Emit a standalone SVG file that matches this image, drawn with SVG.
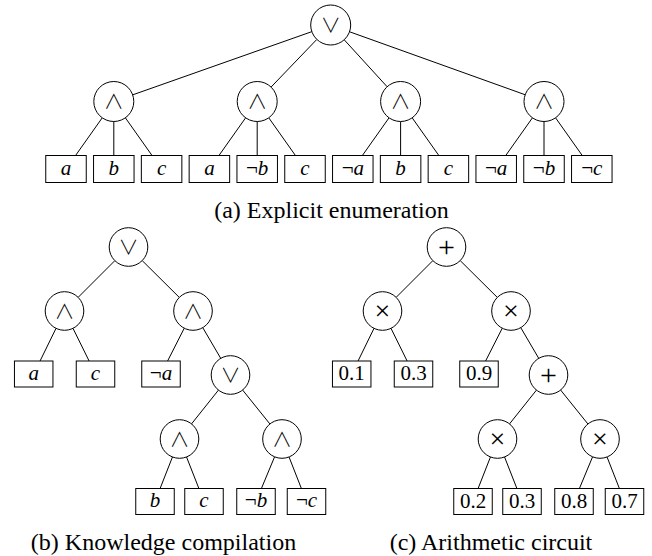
<svg xmlns="http://www.w3.org/2000/svg" width="652" height="556" viewBox="0 0 652 556">
  <style>
    .edge { stroke: #000; stroke-width: 1; fill: none; }
    .gate { fill: #fff; stroke: #000; stroke-width: 1; }
    .leaf { fill: #fff; stroke: #000; stroke-width: 1; }
    .op { font-family: "Noto Sans CJK JP", "DejaVu Sans", sans-serif; font-weight: 300; font-size: 20px; text-anchor: middle; fill: #000; }
    .sum { font-family: "Liberation Serif", serif; font-size: 30px; text-anchor: middle; fill: #000; }
    .prod { font-family: "Liberation Serif", serif; font-size: 28px; text-anchor: middle; fill: #000; }
    .lit { font-family: "Liberation Serif", serif; font-style: italic; font-size: 21px; text-anchor: middle; fill: #000; }
    .lit .neg { font-style: normal; }
    .num { font-family: "Liberation Serif", serif; font-size: 21px; text-anchor: middle; fill: #000; }
    .cap { font-family: "Liberation Serif", serif; font-size: 24px; text-anchor: middle; fill: #000; }
  </style>
  <rect width="652" height="556" fill="#fff"/>

  <!-- (a) explicit enumeration: one OR over four ANDs of literals -->
  <g id="enumeration">
    <g id="a-edges">
      <path class="edge" d="M311.84 31.65 L132.66 94.85 M316.84 39.42 L271.06 87.08 M344.19 39.77 L387.11 86.73 M349.53 31.75 L525.17 94.75"/>
      <path class="edge" d="M102.24 117.8 L75.56 155.5 M113.8 121.5 V155.5 M125.36 117.8 L152.04 155.5"/>
      <path class="edge" d="M245.64 117.8 L218.96 155.5 M257.2 121.5 V155.5 M268.76 117.8 L295.44 155.5"/>
      <path class="edge" d="M389.04 117.8 L362.36 155.5 M400.6 121.5 V155.5 M412.16 117.8 L438.84 155.5"/>
      <path class="edge" d="M532.44 117.8 L505.76 155.5 M544 121.5 V155.5 M555.56 117.8 L582.24 155.5"/>
    </g>
    <g id="a-or"><circle class="gate" cx="330.7" cy="25" r="20"/><text class="op" x="330.7" y="32.5">∨</text></g>
    <g id="a-and1"><circle class="gate" cx="113.8" cy="101.5" r="20"/><text class="op" x="113.8" y="109">∧</text></g>
    <g id="a-and2"><circle class="gate" cx="257.2" cy="101.5" r="20"/><text class="op" x="257.2" y="109">∧</text></g>
    <g id="a-and3"><circle class="gate" cx="400.6" cy="101.5" r="20"/><text class="op" x="400.6" y="109">∧</text></g>
    <g id="a-and4"><circle class="gate" cx="544" cy="101.5" r="20"/><text class="op" x="544" y="109">∧</text></g>

    <g id="a-leaf1"><rect class="leaf" x="45.75" y="155.5" width="40.5" height="27"/><text class="lit" x="66" y="174.5">a</text></g>
    <g id="a-leaf2"><rect class="leaf" x="93.55" y="155.5" width="40.5" height="27"/><text class="lit" x="113.8" y="174.5">b</text></g>
    <g id="a-leaf3"><rect class="leaf" x="141.35" y="155.5" width="40.5" height="27"/><text class="lit" x="161.6" y="174.5">c</text></g>
    <g id="a-leaf4"><rect class="leaf" x="189.15" y="155.5" width="40.5" height="27"/><text class="lit" x="209.4" y="174.5">a</text></g>
    <g id="a-leaf5"><rect class="leaf" x="236.95" y="155.5" width="40.5" height="27"/><text class="lit" x="257.2" y="174.5"><tspan class="neg">¬</tspan>b</text></g>
    <g id="a-leaf6"><rect class="leaf" x="284.75" y="155.5" width="40.5" height="27"/><text class="lit" x="305" y="174.5">c</text></g>
    <g id="a-leaf7"><rect class="leaf" x="332.55" y="155.5" width="40.5" height="27"/><text class="lit" x="352.8" y="174.5"><tspan class="neg">¬</tspan>a</text></g>
    <g id="a-leaf8"><rect class="leaf" x="380.35" y="155.5" width="40.5" height="27"/><text class="lit" x="400.6" y="174.5">b</text></g>
    <g id="a-leaf9"><rect class="leaf" x="428.15" y="155.5" width="40.5" height="27"/><text class="lit" x="448.4" y="174.5">c</text></g>
    <g id="a-leaf10"><rect class="leaf" x="475.95" y="155.5" width="40.5" height="27"/><text class="lit" x="496.2" y="174.5"><tspan class="neg">¬</tspan>a</text></g>
    <g id="a-leaf11"><rect class="leaf" x="523.75" y="155.5" width="40.5" height="27"/><text class="lit" x="544" y="174.5"><tspan class="neg">¬</tspan>b</text></g>
    <g id="a-leaf12"><rect class="leaf" x="571.55" y="155.5" width="40.5" height="27"/><text class="lit" x="591.8" y="174.5"><tspan class="neg">¬</tspan>c</text></g>

    <text class="cap" x="331.5" y="218">(a) Explicit enumeration</text>
  </g>

  <!-- (b) compiled form: the same formula with shared structure -->
  <g id="compilation">
    <g id="b-edges">
      <path class="edge" d="M114.85 260.65 L78.15 297.35 M142.2 260.6 L179.3 297.4"/>
      <path class="edge" d="M56.02 328.34 L40.05 361 M72.99 328.32 L89.11 361"/>
      <path class="edge" d="M184.26 328.21 L167.6 361 M202.76 327.65 L220.74 358.35"/>
      <path class="edge" d="M218.47 390.09 L191.53 423.91 M242.6 390.04 L269.9 423.96"/>
      <path class="edge" d="M172.46 456.97 L160.1 488.5 M186.54 456.97 L198.9 488.5"/>
      <path class="edge" d="M274.59 456.82 L261.41 488.5 M289.04 456.97 L301.4 488.5"/>
    </g>
    <g id="b-or1"><circle class="gate" cx="128.5" cy="247" r="19.3"/><text class="op" x="128.5" y="254.5">∨</text></g>
    <g id="b-and1"><circle class="gate" cx="64.5" cy="311" r="19.3"/><text class="op" x="64.5" y="318.5">∧</text></g>
    <g id="b-and2"><circle class="gate" cx="193" cy="311" r="19.3"/><text class="op" x="193" y="318.5">∧</text></g>
    <g id="b-or2"><circle class="gate" cx="230.5" cy="375" r="19.3"/><text class="op" x="230.5" y="382.5">∨</text></g>
    <g id="b-and3"><circle class="gate" cx="179.5" cy="439" r="19.3"/><text class="op" x="179.5" y="446.5">∧</text></g>
    <g id="b-and4"><circle class="gate" cx="282" cy="439" r="19.3"/><text class="op" x="282" y="446.5">∧</text></g>

    <g id="b-leaf1"><rect class="leaf" x="14.45" y="361" width="38.5" height="26"/><text class="lit" x="33.7" y="379.5">a</text></g>
    <g id="b-leaf2"><rect class="leaf" x="76.25" y="361" width="38.5" height="26"/><text class="lit" x="95.5" y="379.5">c</text></g>
    <g id="b-leaf3"><rect class="leaf" x="141.75" y="361" width="38.5" height="26"/><text class="lit" x="161" y="379.5"><tspan class="neg">¬</tspan>a</text></g>
    <g id="b-leaf4"><rect class="leaf" x="135.75" y="488.5" width="38.5" height="26"/><text class="lit" x="155" y="507">b</text></g>
    <g id="b-leaf5"><rect class="leaf" x="184.75" y="488.5" width="38.5" height="26"/><text class="lit" x="204" y="507">c</text></g>
    <g id="b-leaf6"><rect class="leaf" x="236.75" y="488.5" width="38.5" height="26"/><text class="lit" x="256" y="507"><tspan class="neg">¬</tspan>b</text></g>
    <g id="b-leaf7"><rect class="leaf" x="287.25" y="488.5" width="38.5" height="26"/><text class="lit" x="306.5" y="507"><tspan class="neg">¬</tspan>c</text></g>

    <text class="cap" x="163.5" y="550">(b) Knowledge compilation</text>
  </g>

  <!-- (c) arithmetic circuit: same shape as (b), shifted right -->
  <g id="circuit" transform="translate(318 0)">
    <g id="c-edges">
      <path class="edge" d="M114.85 260.65 L78.15 297.35 M142.2 260.6 L179.3 297.4"/>
      <path class="edge" d="M56.02 328.34 L40.05 361 M72.99 328.32 L89.11 361"/>
      <path class="edge" d="M184.26 328.21 L167.6 361 M202.76 327.65 L220.74 358.35"/>
      <path class="edge" d="M218.47 390.09 L191.53 423.91 M242.6 390.04 L269.9 423.96"/>
      <path class="edge" d="M172.46 456.97 L160.1 488.5 M186.54 456.97 L198.9 488.5"/>
      <path class="edge" d="M274.59 456.82 L261.41 488.5 M289.04 456.97 L301.4 488.5"/>
    </g>
    <g id="c-sum1"><circle class="gate" cx="128.5" cy="247" r="19.3"/><text class="sum" x="128.5" y="257">+</text></g>
    <g id="c-prod1"><circle class="gate" cx="64.5" cy="311" r="19.3"/><text class="prod" x="64.5" y="320">×</text></g>
    <g id="c-prod2"><circle class="gate" cx="193" cy="311" r="19.3"/><text class="prod" x="193" y="320">×</text></g>
    <g id="c-sum2"><circle class="gate" cx="230.5" cy="375" r="19.3"/><text class="sum" x="230.5" y="385">+</text></g>
    <g id="c-prod3"><circle class="gate" cx="179.5" cy="439" r="19.3"/><text class="prod" x="179.5" y="448">×</text></g>
    <g id="c-prod4"><circle class="gate" cx="282" cy="439" r="19.3"/><text class="prod" x="282" y="448">×</text></g>

    <g id="c-leaf1"><rect class="leaf" x="14.45" y="361" width="38.5" height="26"/><text class="num" x="33.7" y="380">0.1</text></g>
    <g id="c-leaf2"><rect class="leaf" x="76.25" y="361" width="38.5" height="26"/><text class="num" x="95.5" y="380">0.3</text></g>
    <g id="c-leaf3"><rect class="leaf" x="141.75" y="361" width="38.5" height="26"/><text class="num" x="161" y="380">0.9</text></g>
    <g id="c-leaf4"><rect class="leaf" x="135.75" y="488.5" width="38.5" height="26"/><text class="num" x="155" y="507.5">0.2</text></g>
    <g id="c-leaf5"><rect class="leaf" x="184.75" y="488.5" width="38.5" height="26"/><text class="num" x="204" y="507.5">0.3</text></g>
    <g id="c-leaf6"><rect class="leaf" x="236.75" y="488.5" width="38.5" height="26"/><text class="num" x="256" y="507.5">0.8</text></g>
    <g id="c-leaf7"><rect class="leaf" x="287.25" y="488.5" width="38.5" height="26"/><text class="num" x="306.5" y="507.5">0.7</text></g>

    <text class="cap" x="173" y="550">(c) Arithmetic circuit</text>
  </g>
</svg>
